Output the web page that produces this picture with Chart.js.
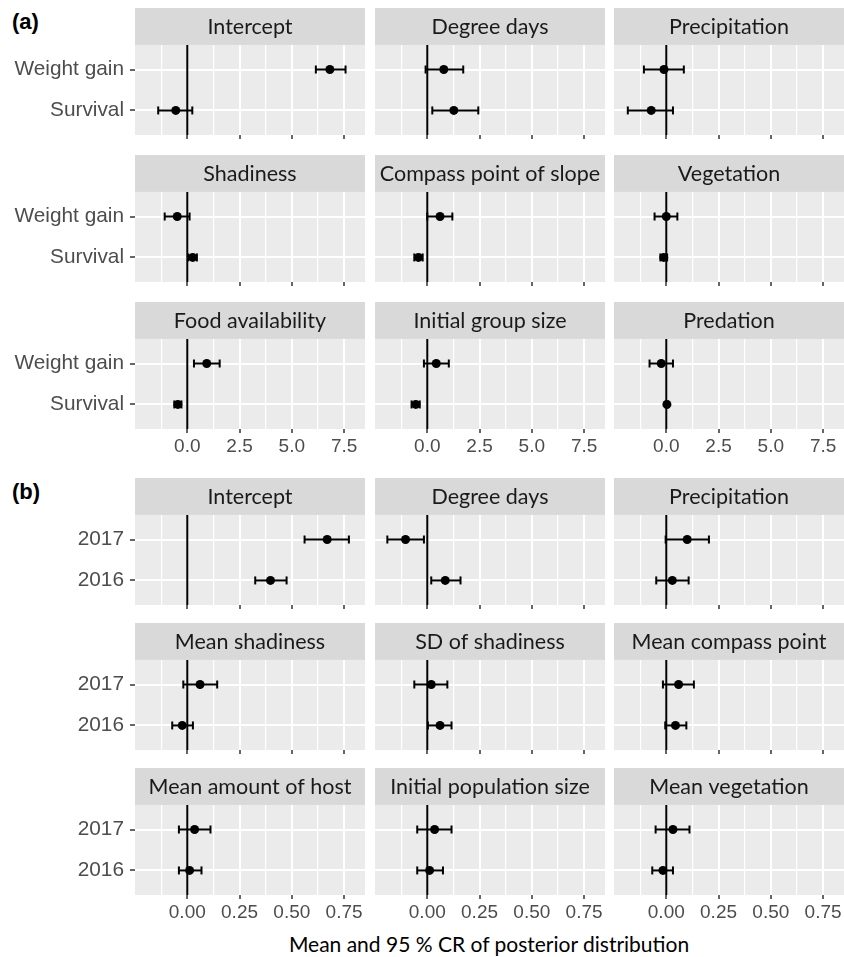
<!DOCTYPE html>
<html>
<head>
<meta charset="utf-8">
<script src="https://cdn.jsdelivr.net/npm/chart.js@4.4.1/dist/chart.umd.min.js"></script>
<style>
  body { margin: 0; background: #fff; }
  #page { position: relative; width: 844px; height: 957px; overflow: hidden; }
  #page canvas { position: absolute; }
  .tag { position: absolute; left: 12px; font: bold 22px "Liberation Sans", Arial, sans-serif; color: #000; }
  #xtitle { position: absolute; left: 135px; width: 708px; top: 931px; text-align: center;
            font: 21px Lato, sans-serif; color: #000; }
</style>
</head>
<body>
<div id="page">
  <div class="tag" style="top:9px">(a)</div>
  <div class="tag" style="top:479px">(b)</div>
  <div id="xtitle">Mean and 95 % CR of posterior distribution</div>
</div>
<script>
// ---- (a) individual level, [upper row, lower row] ----
const facetsA = ['Intercept', 'Degree days', 'Precipitation',
                 'Shadiness', 'Compass point of slope', 'Vegetation',
                 'Food availability', 'Initial group size', 'Predation'];
const rowsA = ['Weight gain', 'Survival'];
const meanA = [[6.82, -0.55], [0.79, 1.27], [-0.11, -0.72],
               [-0.48, 0.26], [0.61, -0.42], [0.00, -0.12],
               [0.93, -0.45], [0.43, -0.55], [-0.24, 0.03]];
const lowA  = [[6.15, -1.39], [-0.08, 0.24], [-1.07, -1.84],
               [-1.08, 0.05], [0.00, -0.62], [-0.56, -0.28],
               [0.32, -0.62], [-0.16, -0.75], [-0.80, -0.03]];
const highA = [[7.57, 0.24], [1.72, 2.44], [0.84, 0.32],
               [0.11, 0.46], [1.20, -0.22], [0.53, 0.04],
               [1.55, -0.28], [1.03, -0.36], [0.32, 0.09]];
const ticksA = [0, 2.5, 5, 7.5];

// ---- (b) population level ----
const facetsB = ['Intercept', 'Degree days', 'Precipitation',
                 'Mean shadiness', 'SD of shadiness', 'Mean compass point',
                 'Mean amount of host', 'Initial population size', 'Mean vegetation'];
const rowsB = ['2017', '2016'];
const meanB = [[0.669, 0.398], [-0.104, 0.086], [0.100, 0.029],
               [0.061, -0.024], [0.019, 0.061], [0.059, 0.044],
               [0.035, 0.011], [0.035, 0.011], [0.032, -0.016]];
const lowB  = [[0.561, 0.325], [-0.191, 0.019], [-0.003, -0.048],
               [-0.019, -0.072], [-0.062, 0.003], [-0.016, -0.005],
               [-0.040, -0.040], [-0.048, -0.048], [-0.051, -0.067]];
const highB = [[0.773, 0.475], [-0.016, 0.159], [0.204, 0.107],
               [0.143, 0.027], [0.096, 0.116], [0.132, 0.096],
               [0.111, 0.068], [0.116, 0.075], [0.111, 0.032]];
const ticksB = [0, 0.25, 0.5, 0.75];

// ---- layout ----
const colLeft = [135, 375, 614];
const panelW = 230;
const stripH = 37;
const plotH = 90;
const rowTopA = [8, 155, 302];
const rowTopB = [478, 623, 768];

// strip + grey panel behind the grid
const panelBg = {
  id: 'panelBg',
  beforeDraw(chart) {
    const { ctx, chartArea: a } = chart;
    const t = chart.titleBlock;
    ctx.save();
    ctx.fillStyle = '#D9D9D9';
    ctx.fillRect(a.left, t.top, a.right - a.left, t.bottom - t.top);
    ctx.fillStyle = '#EBEBEB';
    ctx.fillRect(a.left, a.top, a.right - a.left, a.bottom - a.top);
    ctx.restore();
  }
};

function makePanel(p) {
  const isLeft = p.col === 0;
  const axisH = p.isBottom ? 34 : 6;
  const canvas = document.createElement('canvas');
  canvas.width = isLeft ? colLeft[0] + panelW : panelW;
  canvas.height = stripH + plotH + axisH;
  canvas.style.left = (isLeft ? 0 : colLeft[p.col]) + 'px';
  canvas.style.top = p.top + 'px';
  document.getElementById('page').appendChild(canvas);

  // majors from the tick list, minors halfway between
  const half = (p.ticks[1] - p.ticks[0]) / 2;
  const gridVals = [];
  p.ticks.forEach(t => { gridVals.push(t - half, t); });
  const last = p.ticks[p.ticks.length - 1] + half;
  if (last < p.max) gridVals.push(last);
  const isMajor = v => p.ticks.includes(v);

  const datasets = [];
  datasets.push({
    data: p.mean.map((m, i) => ({ x: m, y: 2 - i })),
    pointRadius: 4.5, pointBackgroundColor: '#000', pointBorderColor: '#000',
    pointBorderWidth: 0, showLine: false
  });
  p.low.forEach((lo, i) => {
    datasets.push({
      data: [{ x: lo, y: 2 - i }, { x: p.high[i], y: 2 - i }],
      showLine: true, borderColor: '#000', borderWidth: 2,
      pointStyle: 'line', pointRotation: 90, pointRadius: 4,
      pointBorderWidth: 2, pointBorderColor: '#000'
    });
  });
  datasets.push({
    data: [{ x: 0, y: 0.4 }, { x: 0, y: 2.6 }],
    showLine: true, borderColor: '#000', borderWidth: 2, pointRadius: 0
  });

  new Chart(canvas, {
    type: 'scatter',
    data: { datasets },
    plugins: [panelBg],
    options: {
      responsive: false,
      animation: false,
      devicePixelRatio: 1,
      events: [],
      layout: { padding: 0, autoPadding: false },
      plugins: {
        legend: { display: false },
        tooltip: { enabled: false },
        title: {
          display: true, text: p.title, fullSize: false,
          padding: { top: 6, bottom: 5.8 },
          color: '#1A1A1A',
          font: { family: 'Lato', size: 21.5, weight: 'normal', lineHeight: 1.17 }
        }
      },
      scales: {
        x: {
          type: 'linear', min: p.min, max: p.max,
          afterBuildTicks: s => { s.ticks = gridVals.map(v => ({ value: v })); },
          afterFit: s => {
            s.height = axisH;
            s.paddingLeft = 0; s.paddingRight = 0;
          },
          border: { display: false },
          grid: {
            color: c => (c.tick && c.tick.value > p.min) ? '#FFFFFF' : 'rgba(0,0,0,0)',
            lineWidth: c => (c.tick && isMajor(c.tick.value)) ? 2 : 1.2,
            drawTicks: true, tickLength: 4, tickWidth: 1.5,
            tickColor: c => (c.tick && isMajor(c.tick.value)) ? '#333333' : 'rgba(0,0,0,0)'
          },
          ticks: {
            display: p.isBottom, autoSkip: false, maxRotation: 0, padding: 2,
            color: '#4D4D4D',
            font: { family: 'Liberation Sans', size: 19 },
            callback: v => isMajor(v) ? v.toFixed(p.digits) : ''
          }
        },
        y: {
          type: 'linear', min: 0.4, max: 2.6,
          afterBuildTicks: s => { s.ticks = [{ value: 1 }, { value: 2 }]; },
          afterFit: s => {
            s.width = isLeft ? colLeft[0] : 0;
            s.paddingTop = 0; s.paddingBottom = 0;
          },
          border: { display: false },
          grid: {
            color: '#FFFFFF', lineWidth: 2,
            drawTicks: isLeft, tickLength: 5, tickWidth: 1.5, tickColor: '#333333'
          },
          ticks: {
            display: isLeft, padding: 6, color: '#4D4D4D',
            font: { family: 'Liberation Sans', size: 20.8 },
            callback: v => v === 2 ? p.rows[0] : p.rows[1]
          }
        }
      }
    }
  });
}

function buildBlock(facets, rows, mean, low, high, ticks, min, max, digits, rowTops) {
  facets.forEach((name, k) => {
    const r = Math.floor(k / 3), c = k % 3;
    makePanel({
      col: c, top: rowTops[r], isBottom: r === 2, title: name, rows,
      mean: mean[k], low: low[k], high: high[k],
      ticks, min, max, digits
    });
  });
}

buildBlock(facetsA, rowsA, meanA, lowA, highA, ticksA, -2.5, 8.5, 1, rowTopA);
buildBlock(facetsB, rowsB, meanB, lowB, highB, ticksB, -0.25, 0.85, 2, rowTopB);
</script>
</body>
</html>
